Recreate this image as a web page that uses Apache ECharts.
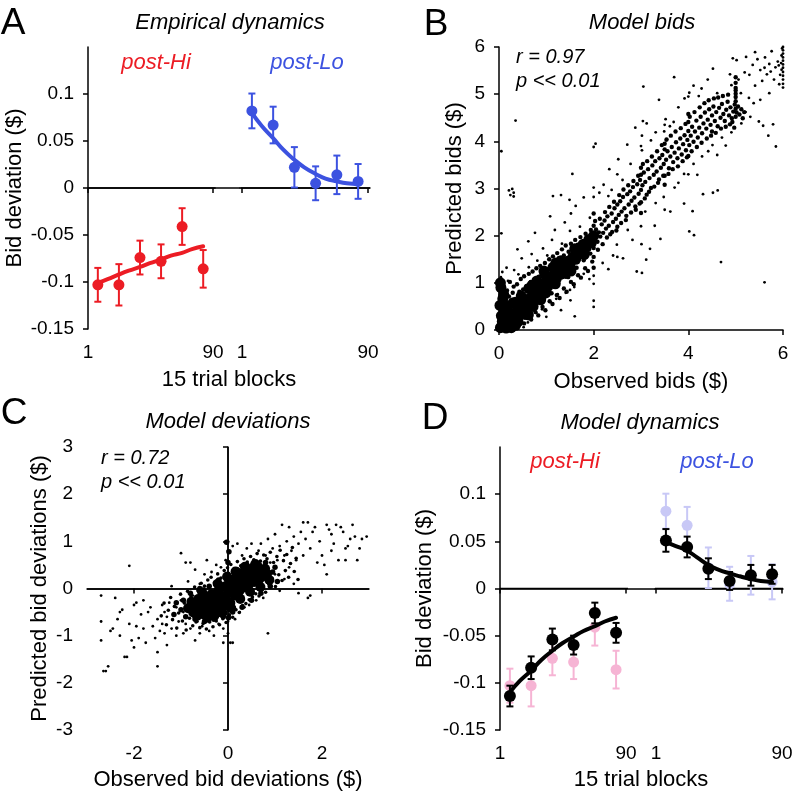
<!DOCTYPE html>
<html><head><meta charset="utf-8">
<script src="https://cdn.jsdelivr.net/npm/echarts@6/dist/echarts.min.js"></script>
<style>html,body{margin:0;padding:0;background:#fff}#c{width:796px;height:796px}</style>
</head><body><div id="c"></div>
<script>
// ---------------- DATA ----------------
const blocks = [8, 23, 38, 53, 68, 83];
const fitX = [8, 15, 23, 30, 38, 45, 53, 60, 68, 75, 83];
const blockTicks = [1, 90];
const dynTicks = [-0.15, -0.1, -0.05, 0, 0.05, 0.1];

// Panel A: empirical dynamics (mean, s.e.m.)
const empHiMean = [-0.103, -0.103, -0.074, -0.078, -0.041, -0.086];
const empHiErr  = [0.018, 0.022, 0.018, 0.018, 0.0195, 0.020];
const empLoMean = [0.082, 0.067, 0.022, 0.005, 0.014, 0.007];
const empLoErr  = [0.0185, 0.0195, 0.0215, 0.018, 0.0205, 0.0185];
const empHiFit  = [-0.101, -0.097, -0.092, -0.088, -0.084, -0.080, -0.076, -0.072, -0.069, -0.065, -0.062];
const empLoFit  = [0.080, 0.066, 0.053, 0.041, 0.030, 0.022, 0.015, 0.010, 0.007, 0.005, 0.004];

// Panel D: model dynamics
const modHiMean = [-0.114, -0.084, -0.054, -0.060, -0.026, -0.047];
const modHiErr  = [0.011, 0.012, 0.0115, 0.010, 0.011, 0.0105];
const modLoMean = [0.051, 0.044, 0.021, 0.008, 0.014, 0.015];
const modLoErr  = [0.012, 0.011, 0.011, 0.0095, 0.011, 0.010];
const modHiFit  = [-0.110, -0.098, -0.087, -0.076, -0.066, -0.058, -0.051, -0.045, -0.040, -0.035, -0.031];
const modLoFit  = [0.049, 0.045, 0.040, 0.033, 0.025, 0.020, 0.016, 0.013, 0.010, 0.008, 0.007];

// Panel B: observed vs predicted bids (x,y pairs read from the cloud)
const bidsCore = `0.03,0.05 0.07,0.18 0.11,0.07 0.16,0.22 0.19,0.12 0.24,0.31 0.27,0.19 0.33,0.36 0.36,0.26 0.41,0.44
0.44,0.33 0.49,0.51 0.52,0.41 0.57,0.6 0.61,0.49 0.66,0.68 0.69,0.58 0.74,0.77 0.78,0.66 0.83,0.86 0.86,0.75
0.91,0.93 0.95,0.83 1.0,1.02 1.03,0.92 1.08,1.1 1.12,1.01 1.17,1.19 1.21,1.09 1.26,1.28 1.3,1.18 1.35,1.37
1.39,1.27 1.45,1.46 1.5,1.38 1.56,1.55 1.62,1.5 1.68,1.64 0.05,0.3 0.12,0.42 0.02,0.52 0.08,0.66 0.18,0.5
0.3,0.58 0.26,0.05 0.4,0.18 0.55,0.33 0.72,0.5 0.88,0.64 0.47,0.72 0.63,0.88 0.8,1.04 0.97,1.18 1.14,1.33
1.31,1.47 0.15,0.04 0.58,0.41 0.99,0.79 1.19,0.98 1.41,1.2 1.74,1.71 1.78,1.82 1.84,1.75 1.9,1.92 1.95,1.85
2.0,2.0 1.8,1.6 1.6,1.72 1.52,1.25 1.2,1.42 0.95,1.25 0.7,0.95 0.45,0.6 0.2,0.38 0.35,0.1 0.62,0.32
0.04,0.9 0.1,0.75 0.03,1.0`;
const bidsMid = `0.04,0.72 0.09,0.93 0.13,0.61 0.17,0.84 0.21,0.71 0.23,1.02 0.29,0.79 0.31,0.92 0.34,0.66 0.38,0.97
0.43,0.81 0.46,1.08 0.51,0.86 0.53,1.14 0.58,0.93 0.63,1.19 0.67,1.02 0.71,1.24 0.76,1.06 0.79,1.31 0.84,1.13
0.87,1.36 0.92,1.21 0.97,1.42 1.01,1.29 1.06,1.5 1.09,1.34 1.14,1.56 1.19,1.41 1.23,1.63 1.27,1.52 1.33,1.71
1.37,1.58 1.41,1.79 1.47,1.66 1.52,1.83 1.57,1.72 1.61,1.91 1.66,1.81 1.72,1.97 1.77,1.86 1.83,2.04 1.88,1.95
1.94,2.12 0.22,0.02 0.31,0.13 0.37,0.06 0.46,0.21 0.53,0.14 0.62,0.29 0.68,0.22 0.77,0.38 0.83,0.31 0.92,0.49
0.98,0.42 1.07,0.61 1.13,0.55 1.22,0.74 1.28,0.68 1.37,0.88 1.43,0.81 1.52,1.02 1.58,0.97 1.67,1.16 1.73,1.11
1.82,1.31 1.88,1.25 1.97,1.45 1.46,1.12 1.64,1.32 1.79,1.48 1.93,1.62 1.11,0.78 0.96,0.69
1.71,1.58 1.74,1.77 1.78,1.69 1.81,1.88 1.84,1.62 1.87,1.79 1.9,1.71 1.93,1.92 1.96,1.83 1.99,2.02 2.0,1.74
2.0,2.21 2.0,1.55 2.0,2.47 2.0,1.32 2.02,1.94 2.05,2.13 2.08,1.87 2.11,2.07 2.14,1.98 2.17,2.24 2.2,2.06
2.23,2.32 2.26,2.15 2.29,2.41 2.32,2.21 2.35,2.03 2.38,2.47 2.41,2.29 2.44,2.58 2.47,2.36 2.5,2.66 2.5,2.19
2.53,2.44 2.56,2.73 2.59,2.51 2.62,2.82 2.65,2.58 2.68,2.33 2.71,2.88 2.74,2.66 2.77,2.94 2.8,2.74 2.83,3.03
2.86,2.81 2.89,2.55 2.92,3.09 2.95,2.89 2.98,3.18 3.0,2.97 3.0,3.29 3.0,2.71 3.0,3.44 3.0,2.48 3.03,3.07
3.06,3.34 3.09,3.14 3.12,2.87 3.15,3.41 3.18,3.22 3.21,3.01 3.24,3.49 3.27,3.29 3.3,3.58 3.33,3.36 3.36,3.12
3.39,3.64 3.42,3.44 3.45,3.71 3.48,3.52 3.5,3.27 3.5,3.83 3.5,3.95 3.5,3.08 3.53,3.61 3.56,3.79 3.59,3.43
3.62,3.68 3.65,3.88 3.68,3.56 3.71,3.76 3.74,3.98 3.77,3.64 3.8,3.85 3.83,4.06 3.86,3.72 3.89,3.94 3.92,4.13
3.95,3.81 3.98,4.03 4.0,4.22 4.0,4.41 4.0,3.69 4.0,4.58 4.02,3.92 4.05,4.12 4.08,4.31 4.11,3.99 4.14,4.21
4.17,4.44 4.2,4.08 4.23,4.29 4.26,4.52 4.29,4.17 4.32,4.38 4.35,4.61 4.38,4.27 4.41,4.46 4.44,4.68 4.47,4.35
4.5,4.55 4.5,4.21 4.53,4.74 4.56,4.43 4.59,4.62 4.62,4.32 4.65,4.71 4.68,4.5 4.71,4.79 4.74,4.58 4.77,4.43
4.8,4.67 4.83,4.84 4.86,4.55 4.89,4.72 4.92,4.49 4.95,4.63 4.98,4.78 5.0,4.52 5.0,4.69 5.0,4.85 5.0,5.01
5.0,5.13 5.0,5.24 5.0,5.36 5.0,4.94 5.0,5.08 5.02,4.61 5.05,4.74 5.08,4.57 5.12,4.68 5.15,4.49 5.18,4.62
2.03,2.31 2.09,1.7 2.13,2.36 2.19,1.82 2.24,2.5 2.28,1.96 2.33,2.61 2.39,2.08 2.43,2.72 2.48,2.11 2.54,2.86
2.58,2.27 2.63,2.98 2.69,2.42 2.73,3.07 2.79,2.49 2.84,3.16 2.88,2.62 2.94,3.27 2.97,2.68 3.04,3.52 3.08,2.79
3.13,3.58 3.17,2.93 3.23,3.68 3.28,3.04 3.34,3.79 3.38,3.19 3.44,3.92 3.47,3.27 3.54,4.04 3.58,3.31 3.63,4.12
3.67,3.41 3.73,4.21 3.78,3.47 3.84,4.28 3.88,3.58 3.94,4.37 3.97,3.66 4.03,4.52 4.07,3.79 4.13,4.62 4.18,3.88
4.24,4.72 4.28,3.97 4.34,4.81 4.39,4.06 4.43,4.87 4.48,4.12 4.54,4.91 4.58,4.18 4.63,4.93 4.69,4.27 4.73,4.96
4.79,4.31 4.84,4.99 4.88,4.36 4.93,4.41 4.97,4.29`;
const bidsSparse = `0.04,1.12 0.11,0.83 0.19,1.04 0.32,1.27 0.41,1.18 0.48,1.52 0.63,1.33 0.69,1.61 0.81,1.47 0.93,1.73
1.02,1.58 1.12,1.91 1.18,2.12 1.33,1.83 1.39,2.28 1.52,2.47 1.55,3.31 1.62,2.63 1.71,2.19 1.79,2.81 1.92,2.38
2.0,3.88 2.0,3.02 2.0,0.98 2.0,0.62 2.0,0.49 2.04,3.95 2.12,2.91 2.21,3.08 2.33,3.41 2.38,2.97 2.52,3.62
2.61,3.18 2.71,3.93 2.78,3.52 2.88,4.29 3.02,3.81 3.04,4.43 3.12,4.38 3.21,4.02 3.31,4.19 3.38,4.88 3.52,4.47
3.61,4.32 3.7,5.36 3.79,4.72 3.92,4.91 4.02,5.03 4.11,5.18 4.22,4.96 4.28,5.12 4.41,5.31 4.52,5.54 4.61,5.02
4.72,4.97 4.91,5.19 5.02,5.72 5.06,5.31 5.11,5.02 5.22,5.79 5.29,5.41 5.36,5.62 5.41,5.18 5.46,5.74 5.52,5.51
5.56,5.28 5.61,5.56 5.66,5.42 5.71,5.64 5.74,5.48 5.81,5.31 5.84,5.57 5.89,5.69 5.94,5.41 6.0,6.0 6.0,5.93
6.0,5.86 6.0,5.78 6.0,5.71 6.0,5.63 6.0,5.56 6.0,5.47 6.0,5.39 6.0,5.31 6.0,5.22 6.0,5.14 5.98,5.97 5.97,5.82
5.96,5.66 5.97,5.52 5.91,5.61 5.28,4.92 5.21,4.62 5.38,4.81 5.49,4.42 5.58,4.33 5.69,4.12 5.79,4.36 5.85,3.89
5.61,1.01 4.69,1.44 4.12,2.01 4.02,2.09 4.31,2.88 4.52,2.91 4.09,2.52 3.91,2.68 3.79,3.12 3.62,2.51 3.48,2.82
3.41,1.93 3.29,2.21 3.19,1.72 3.11,1.49 3.02,1.21 2.91,1.24 3.01,1.82 2.82,1.91 2.72,2.12 2.62,1.52 2.49,1.81
2.41,1.58 2.31,1.29 2.19,1.42 1.91,1.08 1.79,1.19 1.59,0.91 1.51,0.63 1.41,0.79 1.31,0.42 1.24,0.76 1.09,0.59
1.0,0.28 0.91,0.44 0.79,0.36 0.69,0.24 0.61,0.16 0.52,0.06 0.44,0.11 1.21,0.66 1.6,0.29 0.05,2.05 0.05,3.79
0.35,4.44 0.21,2.96 0.24,2.86 0.31,2.91 0.28,2.99 0.31,2.83 3.05,5.16 4.94,5.76 5.19,5.46 5.76,5.91 3.02,4.12
3.49,4.21 4.42,3.79 4.61,3.71 4.79,3.91 4.19,3.29 4.62,2.96 3.71,3.02 2.31,2.84 1.49,2.76 1.31,2.86 1.14,2.84
0.76,2.06 1.08,2.41 0.39,1.71 0.62,1.88 3.09,2.51 3.31,2.69 3.53,4.02 3.69,4.41 3.91,3.31 4.11,3.52 4.29,3.68
4.51,3.92 4.71,4.08 4.91,4.19 5.12,4.38 5.31,4.52 5.52,4.88 5.71,5.02 5.92,5.21 5.62,5.78 5.41,5.89 4.88,5.42
0.08,0.47 0.14,0.28 0.02,0.88 0.07,1.23 0.16,1.32 2.0,2.82 2.0,1.15 3.0,2.2 3.0,3.9 4.0,3.3 4.0,4.95 3.5,2.55
3.5,4.35 2.5,1.55 2.5,3.3 1.5,0.85 1.5,2.1`;

// Panel C: observed vs predicted bid deviations
const devCore = `-0.85,-0.42 -0.78,-0.28 -0.74,-0.51 -0.69,-0.36 -0.63,-0.22 -0.61,-0.47 -0.56,-0.33 -0.52,-0.55
-0.49,-0.18 -0.46,-0.41 -0.41,-0.27 -0.38,-0.5 -0.35,-0.12 -0.31,-0.36 -0.27,-0.21 -0.24,-0.45 -0.2,-0.05
-0.17,-0.3 -0.13,-0.16 -0.1,-0.39 -0.07,0.04 -0.04,-0.23 0.0,-0.08 0.02,0.12 0.05,-0.31 0.08,0.02 0.11,0.19
0.14,-0.15 0.18,0.08 0.21,0.27 0.24,-0.06 0.28,0.15 0.31,0.33 0.35,0.02 0.38,0.22 0.42,0.39 0.45,0.09
0.49,0.28 0.53,0.44 0.56,0.14 0.6,0.33 0.64,0.46 0.67,0.2 0.71,0.37 0.75,0.26 0.79,0.42 0.83,0.31 -0.66,-0.58
-0.55,-0.08 -0.44,-0.62 -0.29,-0.58 -0.22,0.1 -0.12,-0.52 -0.02,0.25 0.07,-0.42 0.16,0.36 0.26,-0.22 0.36,0.46
0.47,-0.07 0.58,0.52 0.69,0.03 0.88,0.18`;
const devMid = `-1.0,-0.45 -0.95,-0.25 -0.9,-0.6 -0.8,-0.1 -0.7,-0.65 -0.6,0.0 -0.5,-0.7 -0.4,0.05 -0.3,-0.65
-0.2,0.18 -0.1,-0.6 0.0,0.3 0.1,-0.5 0.2,0.4 0.3,-0.4 0.4,0.5 0.5,-0.25 0.6,0.55 0.7,-0.1 0.8,0.55 0.9,0.05
0.95,0.35 1.0,0.45 1.05,0.15 -1.1,-0.3 -1.15,-0.55 0.0,0.55 0.02,0.78 -0.03,0.98 0.01,-0.62`;
const devHalo = `-1.42,-0.58 -1.36,-0.31 -1.31,-0.77 -1.27,-0.46 -1.22,-0.19 -1.18,-0.66 -1.14,-0.38 -1.09,-0.84
-1.05,-0.52 -1.01,-0.12 -0.97,-0.69 -0.93,-0.31 -0.89,-0.88 -0.86,-0.06 -0.82,-0.63 -0.79,-0.16 -0.75,-0.79
-0.71,0.03 -0.68,-0.71 -0.64,-0.05 -0.6,-0.83 -0.57,0.11 -0.53,-0.74 -0.5,0.05 -0.46,-0.86 -0.43,0.18
-0.39,-0.71 -0.36,0.24 -0.32,-0.81 -0.29,0.12 -0.25,-0.69 -0.22,0.31 -0.18,-0.77 -0.15,0.22 -0.11,-0.64
-0.08,0.38 -0.04,-0.72 -0.01,0.44 0.03,-0.56 0.06,0.51 0.1,-0.61 0.13,0.42 0.17,-0.45 0.2,0.57 0.24,-0.51
0.27,0.48 0.31,-0.36 0.34,0.63 0.38,-0.32 0.41,0.56 0.45,-0.24 0.48,0.68 0.52,-0.18 0.55,0.61 0.59,-0.11
0.62,0.74 0.66,-0.16 0.69,0.58 0.73,0.04 0.76,0.71 0.8,-0.08 0.83,0.63 0.87,0.09 0.9,0.77 0.94,0.21 0.97,0.55
1.01,0.04 1.04,0.68 1.08,0.29 1.11,0.81 1.15,0.17 1.18,0.59 1.22,0.38 1.25,0.72 1.29,0.24 1.33,0.53 1.37,0.87
1.41,0.36 1.45,0.64 1.49,0.19`;
const devSparse = `-2.7,-0.15 -2.7,-1.1 -2.65,-1.75 -2.6,-1.75 -2.55,-1.65 -2.5,-0.9 -2.45,-0.85 -2.4,-0.2 -2.35,-0.65
-2.3,-0.5 -2.25,-0.45 -2.3,-1.0 -2.2,-1.45 -2.15,-1.45 -2.1,0.48 -2.1,-0.75 -2.05,-1.1 -2.0,-1.25 -1.95,-0.3
-1.95,-0.8 -1.9,-1.05 -1.85,-0.55 -1.8,-0.85 -1.75,-1.15 -1.7,-0.5 -1.65,-0.4 -1.6,-0.8 -1.55,-1.05 -1.5,-1.35
-1.5,-1.65 -1.5,-0.65 -1.45,-0.9 -1.4,-0.35 -1.4,-0.75 -1.35,-0.5 -1.3,-1.2 -1.3,-0.6 -1.25,-0.3 -1.2,-0.85
-1.15,-0.55 -1.1,-0.4 -1.1,-1.0 -1.05,-0.7 -1.0,-0.25 -1.0,0.75 -0.95,-0.5 -0.95,-0.95 -0.9,-0.75 -0.85,0.15
-0.8,0.55 -0.8,-0.85 -0.75,-0.15 -0.7,0.4 -0.7,-1.1 -0.65,-0.7 -0.6,0.1 -0.55,-0.8 -0.5,0.3 -0.45,0.6
-0.4,-0.9 -0.35,0.35 -0.3,-1.0 -0.25,0.5 -0.2,-0.75 -0.15,0.45 -0.1,-0.85 -0.1,-1.15 -0.05,0.6 0.0,1.0
0.0,0.8 0.0,-0.7 0.0,-0.95 0.05,-1.15 0.1,-1.15 0.1,0.9 0.15,-0.65 0.2,0.95 0.25,-0.5 0.3,0.7 0.35,-0.4
0.4,0.85 0.45,-0.35 0.5,0.95 0.55,0.6 0.6,-0.25 0.65,0.8 0.7,0.95 0.75,-0.2 0.8,0.7 0.85,-0.95 0.85,1.05
0.9,0.55 0.95,0.85 1.0,0.3 1.0,1.15 1.05,0.6 1.1,0.9 1.1,-0.05 1.15,1.35 1.2,0.7 1.2,0.2 1.25,1.0 1.3,0.45
1.3,1.3 1.35,0.8 1.4,0.1 1.4,1.1 1.45,0.6 1.5,0.95 1.5,-0.1 1.55,1.2 1.6,1.4 1.6,0.7 1.65,1.05 1.7,1.4
1.75,0.85 1.8,1.2 1.85,1.3 1.9,0.55 1.95,1.0 2.0,0.7 2.05,0.5 2.1,1.35 2.15,1.25 2.2,0.8 2.2,1.15 2.25,0.95
2.3,1.35 2.35,0.6 2.4,1.3 2.45,1.2 2.5,0.85 2.5,0.6 2.55,0.9 2.6,1.05 2.65,1.35 2.7,1.1 2.75,0.6 2.8,0.85
2.85,1.05 2.95,1.1 2.1,0.3 1.7,-0.2 1.75,-0.15 -1.8,-0.25 -2.7,-0.7 -2.0,-0.35 -1.35,-0.95 -0.6,-0.95
-1.2,0.05 -0.9,0.55`;

// ---------------- LAYOUT / STYLE ----------------
const FONT = '"Liberation Sans", Arial, Helvetica, sans-serif';
const RED = '#ec1c24', BLUE = '#3c52e0', PINK = '#f6b4d4', LAV = '#c8c8f6', BLACK = '#000';
const parsePts = s => s.trim().split(/\s+/).map(p => p.split(',').map(Number));

const AX = { a1: [1, 109.2], a2: [-0.4, 91.4], d1: [1, 110.5], d2: [0.3, 90.7] };
const zeroSpan = { a1: [1, 91.9], a2: [0.3, 91.4], d1: [1, 91.4], d2: [0.3, 90.7] };

const axLine = { show: true, lineStyle: { color: BLACK, width: 1.5 } };
const axTick = (cv) => ({ show: true, inside: false, length: 5, lineStyle: { color: BLACK, width: 1.5 }, customValues: cv });
const axLab = (cv, fmt) => ({ show: true, color: BLACK, fontSize: 19, fontFamily: FONT, margin: 14, customValues: cv, formatter: fmt });
const nameStyle = { color: BLACK, fontSize: 22, fontFamily: FONT };

function blockX(gi, ext) {
  return { type: 'value', gridIndex: gi, min: ext[0], max: ext[1], axisLine: axLine,
    axisTick: axTick(blockTicks), axisLabel: axLab(blockTicks, v => String(v)), splitLine: { show: false } };
}
function dynY(gi, show, name, gap) {
  return { type: 'value', gridIndex: gi, min: -0.15, max: 0.15, show: show,
    axisLine: axLine, axisTick: axTick(dynTicks), axisLabel: axLab(dynTicks, v => String(v)),
    splitLine: { show: false }, name: name, nameLocation: 'middle', nameGap: gap, nameTextStyle: nameStyle };
}
function errData(means, errs) { return blocks.map((b, i) => [b, means[i] - errs[i], means[i] + errs[i]]); }
function errSeries(xi, yi, means, errs, color, z) {
  return {
    type: 'custom', xAxisIndex: xi, yAxisIndex: yi, z: z, silent: true,
    data: errData(means, errs),
    renderItem: function (params, api) {
      const x = api.value(0);
      const p1 = api.coord([x, api.value(1)]);
      const p2 = api.coord([x, api.value(2)]);
      const w = 3.5, st = { stroke: color, lineWidth: 2 };
      return { type: 'group', children: [
        { type: 'line', shape: { x1: p1[0], y1: p1[1], x2: p2[0], y2: p2[1] }, style: st },
        { type: 'line', shape: { x1: p1[0] - w, y1: p1[1], x2: p1[0] + w, y2: p1[1] }, style: st },
        { type: 'line', shape: { x1: p2[0] - w, y1: p2[1], x2: p2[0] + w, y2: p2[1] }, style: st }
      ] };
    }
  };
}
function ptSeries(xi, yi, means, color, size, z) {
  return { type: 'scatter', xAxisIndex: xi, yAxisIndex: yi, z: z, silent: true,
    data: blocks.map((b, i) => [b, means[i]]), symbol: 'circle', symbolSize: size,
    itemStyle: { color: color, opacity: 1 } };
}
function fitSeries(xi, yi, ys, color, z) {
  return { type: 'line', xAxisIndex: xi, yAxisIndex: yi, z: z, silent: true, smooth: true,
    showSymbol: false, data: fitX.map((x, i) => [x, ys[i]]),
    lineStyle: { color: color, width: 4, cap: 'round' } };
}
function zeroSeries(xi, yi, span) {
  return { type: 'line', xAxisIndex: xi, yAxisIndex: yi, z: 1, silent: true, showSymbol: false,
    data: [[span[0], 0], [span[1], 0]], lineStyle: { color: BLACK, width: 1.5 } };
}
function cloud(xi, yi, str, size) {
  return { type: 'scatter', xAxisIndex: xi, yAxisIndex: yi, silent: true, large: false,
    data: parsePts(str), symbol: 'circle', symbolSize: size, itemStyle: { color: BLACK, opacity: 1 } };
}
function txt(x, y, s, font, color, align) {
  return { type: 'text', x: x, y: y, silent: true,
    style: { text: s, font: font, fill: color || BLACK,
      textAlign: align || 'center', align: align || 'center',
      textVerticalAlign: 'middle', verticalAlign: 'middle' } };
}
const F_LET = '37px ' + FONT, F_TIT = 'italic 22px ' + FONT, F_NAME = '22px ' + FONT, F_ANN = 'italic 20px ' + FONT;

const option = {
  animation: false,
  backgroundColor: '#fff',
  grid: [
    { left: 88, top: 47, width: 152, height: 282 },
    { left: 240, top: 47, width: 130, height: 282 },
    { left: 499, top: 47, width: 284, height: 283 },
    { left: 87, top: 447, width: 282, height: 283 },
    { left: 500, top: 447, width: 155, height: 283 },
    { left: 655, top: 447, width: 128, height: 283 }
  ],
  xAxis: [
    blockX(0, AX.a1), blockX(1, AX.a2),
    { type: 'value', gridIndex: 2, min: 0, max: 6, interval: 2, axisLine: axLine, axisTick: axTick(),
      axisLabel: axLab(), splitLine: { show: false },
      name: 'Observed bids ($)', nameLocation: 'middle', nameGap: 41, nameTextStyle: nameStyle },
    { type: 'value', gridIndex: 3, min: -3, max: 3, axisLine: axLine, axisTick: axTick([-2, 0, 2]),
      axisLabel: axLab([-2, 0, 2], v => String(v)), splitLine: { show: false },
      name: 'Observed bid deviations ($)', nameLocation: 'middle', nameGap: 39, nameTextStyle: nameStyle },
    blockX(4, AX.d1), blockX(5, AX.d2)
  ],
  yAxis: [
    dynY(0, true, 'Bid deviation ($)', 62), dynY(1, false),
    { type: 'value', gridIndex: 2, min: 0, max: 6, interval: 1, axisLine: axLine, axisTick: axTick(),
      axisLabel: axLab(), splitLine: { show: false },
      name: 'Predicted bids ($)', nameLocation: 'middle', nameGap: 33, nameTextStyle: nameStyle },
    { type: 'value', gridIndex: 3, min: -3, max: 3, interval: 1, axisLine: axLine, axisTick: axTick(),
      axisLabel: axLab(), splitLine: { show: false },
      name: 'Predicted bid deviations ($)', nameLocation: 'middle', nameGap: 36, nameTextStyle: nameStyle },
    dynY(4, true, 'Bid deviation ($)', 64), dynY(5, false)
  ],
  series: [
    zeroSeries(0, 0, zeroSpan.a1), zeroSeries(1, 1, zeroSpan.a2),
    fitSeries(0, 0, empHiFit, RED, 3), fitSeries(1, 1, empLoFit, BLUE, 3),
    errSeries(0, 0, empHiMean, empHiErr, RED, 4), errSeries(1, 1, empLoMean, empLoErr, BLUE, 4),
    ptSeries(0, 0, empHiMean, RED, 11, 5), ptSeries(1, 1, empLoMean, BLUE, 11, 5),
    cloud(2, 2, bidsSparse, 2.8), cloud(2, 2, bidsMid, 4.4), cloud(2, 2, bidsCore, 11),
    Object.assign(cloud(3, 3, devSparse, 2.8), {
      markLine: { silent: true, symbol: 'none', label: { show: false }, animation: false,
        lineStyle: { color: BLACK, width: 1.5, type: 'solid' },
        data: [{ xAxis: 0 }, { yAxis: 0 }] } }),
    cloud(3, 3, devHalo, 3.6), cloud(3, 3, devMid, 5.5), cloud(3, 3, devCore, 10),
    zeroSeries(4, 4, zeroSpan.d1), zeroSeries(5, 5, zeroSpan.d2),
    errSeries(4, 4, empHiMean, empHiErr, PINK, 2), errSeries(5, 5, empLoMean, empLoErr, LAV, 2),
    ptSeries(4, 4, empHiMean, PINK, 11, 2), ptSeries(5, 5, empLoMean, LAV, 11, 2),
    fitSeries(4, 4, modHiFit, BLACK, 3), fitSeries(5, 5, modLoFit, BLACK, 3),
    errSeries(4, 4, modHiMean, modHiErr, BLACK, 4), errSeries(5, 5, modLoMean, modLoErr, BLACK, 4),
    ptSeries(4, 4, modHiMean, BLACK, 12, 5), ptSeries(5, 5, modLoMean, BLACK, 12, 5)
  ],
  graphic: [
    txt(13, 24, 'A', F_LET), txt(436, 25, 'B', F_LET), txt(14, 414, 'C', F_LET), txt(435, 419, 'D', F_LET),
    txt(230, 23, 'Empirical dynamics', F_TIT), txt(642, 23, 'Model bids', F_TIT),
    txt(228, 422, 'Model deviations', F_TIT), txt(640, 423, 'Model dynamics', F_TIT),
    txt(156, 63, 'post-Hi', F_TIT, RED), txt(307, 63, 'post-Lo', F_TIT, BLUE),
    txt(565, 462, 'post-Hi', F_TIT, RED), txt(717, 462, 'post-Lo', F_TIT, BLUE),
    txt(229, 380, '15 trial blocks', F_NAME), txt(641, 780, '15 trial blocks', F_NAME),
    txt(516, 57, 'r = 0.97', F_ANN, BLACK, 'left'), txt(516, 81, 'p << 0.01', F_ANN, BLACK, 'left'),
    txt(101, 458, 'r = 0.72', F_ANN, BLACK, 'left'), txt(101, 482, 'p << 0.01', F_ANN, BLACK, 'left')
  ]
};

const chart = echarts.init(document.getElementById('c'), null, { renderer: 'canvas', width: 796, height: 796 });
chart.setOption(option);
</script>
</body></html>
